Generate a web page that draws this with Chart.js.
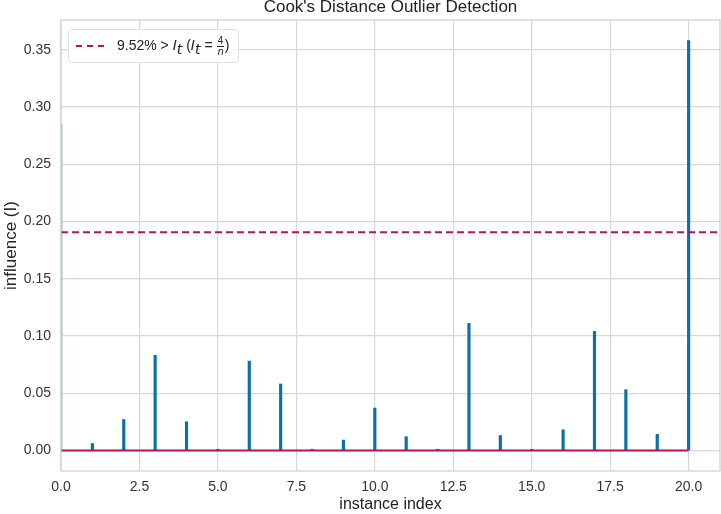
<!DOCTYPE html>
<html>
<head>
<meta charset="utf-8">
<script src="https://cdn.jsdelivr.net/npm/chart.js@4"></script>
<style>
  body { margin: 0; background: #fff; }
  #wrap { position: relative; width: 721px; height: 514px; }
  #title {
    position: absolute; left: 61px; top: -3px; width: 659px; text-align: center;
    font-family: "Liberation Sans", Arial, sans-serif; font-size: 17px; color: #222;
  }
  #legend {
    position: absolute; left: 68px; top: 29px; width: 171px; height: 34px;
    border: 1px solid #e0e0e0; border-radius: 4px; background: rgba(255,255,255,0.85);
    font-family: "Liberation Sans", Arial, sans-serif; font-size: 14px; color: #222;
    display: flex; align-items: center; box-sizing: border-box;
  }
  #legend .swatch { width: 28px; margin-left: 7px; margin-right: 13px; border-top: 2px dashed #b8125a; height: 0; }
  #legend i { font-family: "DejaVu Sans", sans-serif; font-size: 14px; }
  #legend sub { font-size: 10px; }
  .frac { display: inline-flex; flex-direction: column; vertical-align: middle; font-size: 10px; line-height: 10px; text-align: center; margin: 0 1px; }
  .frac span:first-child { border-bottom: 1px solid #222; }
  .frac i { font-size: 10px !important; }
</style>
</head>
<body>
<div id="wrap">
  <canvas id="myChart" width="721" height="514"></canvas>
  <div id="title">Cook's Distance Outlier Detection</div>
  <div id="legend">
    <div class="swatch"></div>
    <span>9.52% &gt; <i>I</i><sub><i>t</i></sub> (<i>I</i><sub><i>t</i></sub> = <span class="frac"><span>4</span><span><i>n</i></span></span>)</span>
  </div>
</div>
<script>
// instance indices and their Cook's distance
const instances = [0, 1, 2, 3, 4, 5, 6, 7, 8, 9, 10, 11, 12, 13, 14, 15, 16, 17, 18, 19, 20];
const influence = [0.285, 0.006, 0.027, 0.083, 0.025, 0.001, 0.078, 0.058, 0.001, 0.009, 0.037,
  0.012, 0.001, 0.111, 0.013, 0.001, 0.018, 0.104, 0.053, 0.014, 0.358];
const xTicks = [0, 2.5, 5, 7.5, 10, 12.5, 15, 17.5, 20];
const yTicks = [0, 0.05, 0.1, 0.15, 0.2, 0.25, 0.3, 0.35];
// threshold 4/n
const threshold = 4 / instances.length;

const stemColor = "#0b6fa8";
const lineColor = "#b8125a";
const gridColor = "#d8d8d8";

// frame round the plot area
const framePlugin = {
  id: "frame",
  afterDraw: (chart) => {
    const { ctx, chartArea } = chart;
    ctx.save();
    ctx.strokeStyle = "#cfcfcf";
    ctx.lineWidth = 1.2;
    ctx.strokeRect(chartArea.left, chartArea.top, chartArea.right - chartArea.left, chartArea.bottom - chartArea.top);
    ctx.restore();
  },
};

const ctx = document.getElementById("myChart").getContext("2d");
const myChart = new Chart(ctx, {
  type: "bar",
  data: {
    datasets: [
      {
        type: "line",
        data: [{ x: 0, y: 0 }, { x: instances[instances.length - 1], y: 0 }],
        borderColor: lineColor,
        borderWidth: 2,
        pointRadius: 0,
        order: 0,
      },
      {
        type: "line",
        data: [{ x: 0, y: threshold }, { x: 21, y: threshold }],
        borderColor: lineColor,
        borderWidth: 2,
        borderDash: [7, 4],
        pointRadius: 0,
        order: 1,
      },
      {
        type: "bar",
        data: instances.map((x, i) => ({ x: x, y: influence[i] })),
        backgroundColor: instances.map((x) => (x === 0 ? "#a9cbe0" : stemColor)),
        barThickness: 2.5,
        order: 2,
      },
    ],
  },
  options: {
    responsive: false,
    animation: false,
    layout: { padding: { top: 20, right: 1 } },
    plugins: {
      legend: { display: false },
      tooltip: { enabled: false },
      title: { display: false },
    },
    scales: {
      x: {
        type: "linear",
        min: 0,
        max: 21,
        offset: false,
        afterFit: (scale) => { scale.height = 43; },
        afterBuildTicks: (scale) => { scale.ticks = xTicks.map((v) => ({ value: v })); },
        grid: { color: gridColor, lineWidth: 1.2, drawTicks: false, offset: false },
        border: { display: false },
        ticks: {
          padding: 8,
          color: "#333",
          font: { family: "Liberation Sans", size: 14 },
          callback: (v) => v.toFixed(1),
        },
        title: {
          display: true,
          text: "instance index",
          color: "#222",
          font: { family: "Liberation Sans", size: 16 },
          padding: { top: 0, bottom: 0 },
        },
      },
      y: {
        min: -0.018,
        max: 0.376,
        afterFit: (scale) => { scale.width = 61; },
        afterBuildTicks: (scale) => { scale.ticks = yTicks.map((v) => ({ value: v })); },
        grid: { color: gridColor, lineWidth: 1.2, drawTicks: false },
        border: { display: false },
        ticks: {
          padding: 10,
          color: "#333",
          font: { family: "Liberation Sans", size: 14 },
          callback: (v) => v.toFixed(2),
        },
        title: {
          display: true,
          text: "influence (I)",
          color: "#222",
          font: { family: "Liberation Sans", size: 17 },
          padding: { top: 1, bottom: 0 },
        },
      },
    },
  },
  plugins: [framePlugin],
});
</script>
</body>
</html>
